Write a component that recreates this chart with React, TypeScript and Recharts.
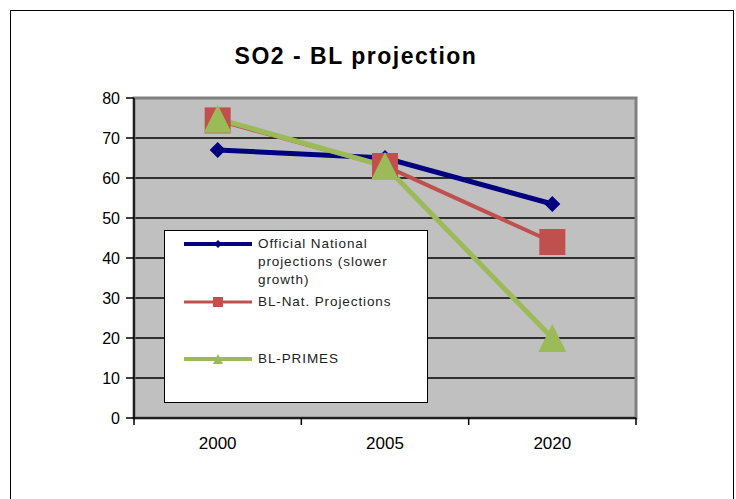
import { LineChart, Line, XAxis, YAxis, CartesianGrid, Legend, ReferenceArea } from 'recharts';

const years = ['2000', '2005', '2020'];
const officialNational = [67, 65, 53.5];
const blNat = [74.4, 63, 44];
const blPrimes = [74.8, 63, 20];
const yTicks = [0, 10, 20, 30, 40, 50, 60, 70, 80];

const FONT = '"Liberation Sans", Arial, sans-serif';

const data = years.map((year, i) => ({
  year,
  official: officialNational[i],
  nat: blNat[i],
  primes: blPrimes[i],
}));

type Shape = 'diamond' | 'square' | 'triangle';

const series: { key: string; name: string; color: string; width: number; shape: Shape }[] = [
  { key: 'official', name: 'Official National projections (slower growth)', color: '#000080', width: 5, shape: 'diamond' },
  { key: 'nat', name: 'BL-Nat. Projections', color: '#C0504D', width: 4, shape: 'square' },
  { key: 'primes', name: 'BL-PRIMES', color: '#9BBB59', width: 5, shape: 'triangle' },
];

function marker(shape: Shape, cx: number, cy: number, r: number, color: string, key?: any) {
  if (shape === 'diamond') {
    return <polygon key={key} points={`${cx},${cy - r} ${cx + r},${cy} ${cx},${cy + r} ${cx - r},${cy}`} fill={color} />;
  }
  if (shape === 'square') {
    return <rect key={key} x={cx - r} y={cy - r} width={r * 2} height={r * 2} fill={color} />;
  }
  return <polygon key={key} points={`${cx},${cy - r} ${cx + r},${cy + r} ${cx - r},${cy + r}`} fill={color} />;
}

const dotSize: Record<Shape, number> = { diamond: 8, square: 13, triangle: 14 };

const TICK_SIZE = 7;
const TICK_MARGIN = 12;

// Excel-style category axis: label in the middle of the band, tick marks on the band edges
const YearTick = (props: any) => {
  const { x, y, payload, index, visibleTicksCount } = props;
  const half = payload.offset || 0;
  const axisY = y - TICK_SIZE - TICK_MARGIN;
  const last = index === visibleTicksCount - 1;
  return (
    <g>
      <line x1={x - half} y1={axisY} x2={x - half} y2={axisY + TICK_SIZE} stroke="#000" strokeWidth={1.5} />
      {last && <line x1={x + half} y1={axisY} x2={x + half} y2={axisY + TICK_SIZE} stroke="#000" strokeWidth={1.5} />}
      <text x={x} y={y} dy="0.71em" textAnchor="middle" fontSize={17} fill="#000" fontFamily={FONT}>
        {payload.value}
      </text>
    </g>
  );
};

// legend rows sit at fixed offsets inside the white box, like the Excel original
const rowTops = [4, 62, 119];

const LegendBox = () => (
  <div
    style={{
      position: 'relative',
      width: 262,
      height: 171,
      background: '#fff',
      border: '1px solid #000',
      fontFamily: FONT,
      fontSize: 13.5,
      letterSpacing: 0.9,
      color: '#222',
    }}
  >
    {series.map((s, i) => (
      <div key={s.key} style={{ position: 'absolute', left: 0, top: rowTops[i], width: '100%' }}>
        <svg width={90} height={18} style={{ position: 'absolute', left: 14, top: 0 }}>
          <line x1={5} y1={9} x2={73} y2={9} stroke={s.color} strokeWidth={s.width - 1} />
          {marker(s.shape, 39, 9, s.shape === 'diamond' ? 4 : 5, s.color)}
        </svg>
        <div style={{ position: 'absolute', left: 93, top: 0, width: 165, lineHeight: '18px' }}>{s.name}</div>
      </div>
    ))}
  </div>
);

export default function App() {
  return (
    <div style={{ position: 'fixed', left: 0, top: 0, width: 736, height: 499, background: '#fff', overflow: 'hidden' }}>
      <div
        style={{
          position: 'absolute',
          left: 10,
          top: 10,
          width: 722,
          height: 540,
          border: '1px solid #000',
        }}
      />
      <div
        style={{
          position: 'absolute',
          left: 0,
          top: 43,
          width: 712,
          textAlign: 'center',
          fontFamily: FONT,
          fontWeight: 'bold',
          fontSize: 23,
          letterSpacing: 1.5,
          color: '#000',
        }}
      >
        SO2 - BL projection
      </div>
      <LineChart
        width={736}
        height={499}
        data={data}
        margin={{ top: 98, right: 100, bottom: 41, left: 0 }}
        style={{ position: 'absolute', left: 0, top: 0 }}
      >
        <CartesianGrid vertical={false} fill="#C0C0C0" stroke="#000" strokeWidth={1.3} />
        <ReferenceArea y1={0} y2={80} fill="none" stroke="#808080" strokeWidth={3} />
        <XAxis
          dataKey="year"
          scale="band"
          height={40}
          tickLine={false}
          tickSize={TICK_SIZE}
          tickMargin={TICK_MARGIN}
          stroke="#000"
          strokeWidth={1.5}
          interval={0}
          tick={<YearTick />}
        />
        <YAxis
          domain={[0, 80]}
          ticks={yTicks}
          interval={0}
          width={134}
          tickSize={8}
          tickMargin={6}
          stroke="#000"
          strokeWidth={1.5}
          tick={{ fontSize: 16, fill: '#000', fontFamily: FONT }}
        />
        <Legend
          layout="vertical"
          align="center"
          verticalAlign="middle"
          wrapperStyle={{ left: 164, top: 230, width: 264, height: 173 }}
          content={() => <LegendBox />}
        />
        {series.map((s) => (
          <Line
            key={s.key}
            dataKey={s.key}
            name={s.name}
            stroke={s.color}
            strokeWidth={s.width}
            isAnimationActive={false}
            dot={(p: any) => marker(s.shape, p.cx, p.cy, dotSize[s.shape], s.color, p.index)}
            activeDot={false}
          />
        ))}
      </LineChart>
    </div>
  );
}
